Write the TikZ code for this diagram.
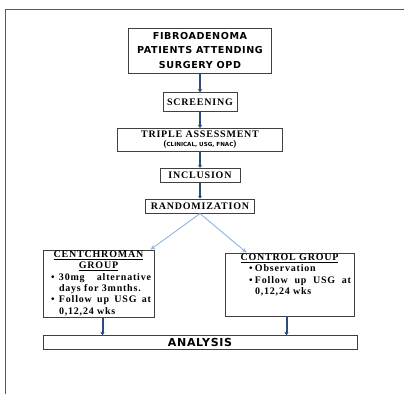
\documentclass[tikz,border=0pt]{standalone}
\usepackage{fontspec}
\setmainfont{Liberation Serif}[LetterSpace=8]
\newfontfamily\headfont{DejaVu Sans}[LetterSpace=6]
\newfontfamily\tinyfont{DejaVu Sans}
\usetikzlibrary{positioning}
\usetikzlibrary{arrows.meta}
\usepackage{xcolor}

\definecolor{arrowblue}{RGB}{46,74,122}
\definecolor{lightarrow}{RGB}{141,179,226}
\definecolor{boxline}{RGB}{64,64,64}

\newcommand{\bulletitem}[3]{\par\hangindent=\dimexpr#1+#2\relax\hangafter=1\noindent\hspace*{#1}\makebox[#2][l]{\textbullet}#3}

\begin{document}
\begin{tikzpicture} [x=1pt, y=-1pt,
        box/.style = {draw=boxline, line width=0.8pt, rectangle, inner sep=0pt, align=center, font=\fontsize{10}{10}\selectfont\bfseries},
        group/.style = {draw=boxline, line width=0.8pt, rectangle, inner xsep=3pt, inner ysep=1pt, font=\fontsize{10}{11.3}\selectfont\bfseries},
        darrow/.style = {-{Latex[length=3pt,width=4.5pt]}, line width=2pt, arrowblue},
        larrow/.style = {-{Stealth[length=5pt,width=4pt]}, line width=0.9pt, lightarrow}]
        \useasboundingbox (0,0) rectangle (404,394);
        \draw[line width=0.8pt, black!65] (5,394) -- (5,9) -- (404,9);

        %Knoten
        \node[box, minimum width=143pt, minimum height=45pt, font=\headfont\fontsize{9.6}{14.5}\selectfont\bfseries] (top) at (200,50.5) {FIBROADENOMA\\PATIENTS ATTENDING\\SURGERY OPD};
        \node[box, minimum width=74pt, minimum height=19pt] (screen) [below = 19pt of top] {SCREENING};
        \node[box, minimum width=165pt, minimum height=23pt] (triple) [below = 16pt of screen] {TRIPLE ASSESSMENT\\[-1pt]{\fontsize{9}{9}\selectfont(}{\tinyfont\fontsize{5.6}{6}\selectfont CLINICAL, USG, FNAC}{\fontsize{9}{9}\selectfont)}};
        \node[box, minimum width=80pt, minimum height=14pt] (incl) [below = 16pt of triple] {INCLUSION};
        \node[box, minimum width=109pt, minimum height=14pt] (rand) [below = 16pt of incl] {RANDOMIZATION};

        \node[group] (cgroup) [below = 36pt of rand, xshift=-101.5pt] {\parbox[b][65pt][t]{105pt}{%
            \centerline{\underline{CENTCHROMAN}}%
            \centerline{\underline{GROUP}}%
            \bulletitem{5pt}{8pt}{30mg alternative days for 3mnths.}%
            \bulletitem{5pt}{8pt}{Follow up USG at 0,12,24 wks}\par}};
        \node[group] (ctrl) [below = 39pt of rand, xshift=89.5pt] {\parbox[b][61pt][t]{123pt}{%
            \centerline{\underline{CONTROL GROUP}}%
            \bulletitem{21pt}{6pt}{Observation}%
            \bulletitem{21pt}{6pt}{Follow up USG at 0,12,24 wks}\par}};

        \node[box, minimum width=314pt, minimum height=14pt, font=\headfont\fontsize{11}{11}\selectfont\bfseries] (analysis) [below = 18pt of cgroup, xshift=101.5pt] {ANALYSIS};

        %Kanten
        \draw[darrow] (top) -- (screen);
        \draw[darrow] (screen) -- (triple);
        \draw[darrow] (triple) -- (incl);
        \draw[darrow] (incl) -- (rand);

        \draw[larrow] (rand.south) -- ([xshift=-4pt]cgroup.north east);
        \draw[larrow] (rand.south) -- ([xshift=22pt]ctrl.north west);

        \draw[darrow] ([xshift=4pt]cgroup.south) -- ([xshift=4pt]cgroup.south |- analysis.north);
        \draw[darrow] ([xshift=-3pt]ctrl.south) -- ([xshift=-3pt]ctrl.south |- analysis.north);

    \end{tikzpicture}
\end{document}
